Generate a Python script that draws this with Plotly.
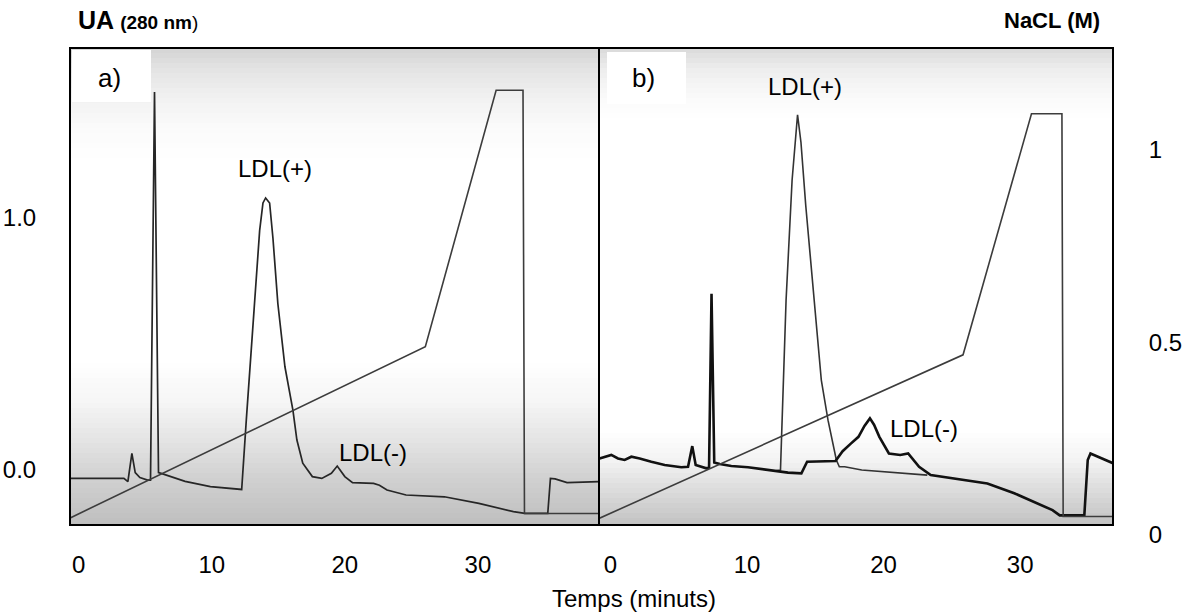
import plotly.graph_objects as go

W, H = 1192, 614

# ---------------- data ----------------
# panel a) : UV absorbance trace (280 nm)
TIME_A_UV = [-0.6, 3.4, 3.7, 4.0, 4.25, 4.6, 5.18, 5.4, 5.7, 6.0, 6.2, 8.0, 9.9, 12.25,
             12.6, 12.95, 13.24, 13.6, 13.85, 14.05, 14.35, 14.6, 14.97, 15.5, 16.1,
             16.4, 16.84, 17.56, 18.27, 18.99, 19.43, 20.0, 20.58, 22.16, 22.6, 23.17,
             24.6, 27.48, 30.07, 32.67, 33.53, 35.25, 35.45, 35.8, 36.7, 39.1]
UV_A = [-0.033, -0.033, -0.046, 0.066, -0.01, -0.03, -0.04, -0.04, 1.50, -0.01, -0.013,
        -0.045, -0.066, -0.077, 0.2, 0.45, 0.667, 0.95, 1.06, 1.08, 1.06, 0.92, 0.66,
        0.41, 0.238, 0.119, 0.027, -0.026, -0.033, -0.013, 0.016, -0.026, -0.05, -0.053,
        -0.06, -0.079, -0.099, -0.106, -0.132, -0.165, -0.172, -0.172, -0.033, -0.035,
        -0.05, -0.046]
# panel a) : NaCl gradient
TIME_A_NACL = [-0.6, 26.05, 31.37, 33.39, 33.5, 39.1]
NACL_A = [0.045, 0.489, 1.155, 1.155, 0.056, 0.056]

# panel b) : UV trace with LDL(-) peak (thick)
TIME_B_UV = [-0.8, 0.06, 0.55, 1.04, 1.53, 2.14, 2.99, 3.97, 5.19, 5.68, 5.99, 6.24, 7.02,
             7.22, 7.4, 7.6, 8.0, 8.85, 10.07, 11.3, 12.27, 13.0, 13.98, 14.4, 16.48,
             17.0, 17.6, 18.16, 18.6, 19.0, 19.3, 19.69, 20.39, 21.22, 21.8, 22.6, 23.45,
             26.8, 27.6, 29.57, 32.37, 32.9, 34.7, 34.95, 35.15, 35.7, 36.8]
UV_B = [0.046, 0.06, 0.046, 0.04, 0.053, 0.046, 0.033, 0.02, 0.011, 0.013, 0.095, 0.02,
        0.007, 0.01, 0.70, 0.03, 0.024, 0.016, 0.011, 0.003, -0.003, -0.01, -0.013, 0.033,
        0.036, 0.075, 0.105, 0.132, 0.175, 0.205, 0.18, 0.132, 0.066, 0.06, 0.066, 0.013,
        -0.02, -0.046, -0.053, -0.092, -0.159, -0.18, -0.18, 0.04, 0.066, 0.053, 0.027]
# panel b) : UV trace with LDL(+) peak (thin)
TIME_B_UV_PLUS = [12.1, 12.45, 12.86, 13.3, 13.7, 13.95, 14.3, 14.95, 15.44, 15.93, 16.3,
                  16.54, 16.76, 17.15, 18.4, 21.2, 23.2]
UV_B_PLUS = [-0.003, 0.0, 0.675, 1.15, 1.41, 1.3, 1.05, 0.667, 0.357, 0.198, 0.093, 0.04,
             0.013, 0.013, 0.0, -0.013, -0.02]
# panel b) : NaCl gradient
TIME_B_NACL = [-0.84, 25.82, 30.83, 33.06, 33.15, 36.8]
NACL_B = [0.043, 0.468, 1.094, 1.094, 0.048, 0.048]

X_TICKS = [0, 10, 20, 30]
X_TICK_TEXT = ["0", "10", "20", "30"]
UV_TICKS = [0.0, 1.0]
UV_TICK_TEXT = ["0.0", "1.0"]
NACL_TICKS = [0, 0.5, 1]
NACL_TICK_TEXT = ["0", "0.5", "1"]

# ---------------- helpers ----------------
FONT = "Liberation Sans, Arial, Helvetica, sans-serif"


def px(x):
    return x / W


def py(y):
    return 1 - y / H


BOX_L, BOX_M, BOX_R = 70, 599, 1113
BOX_T, BOX_B = 48, 525

fig = go.Figure()

# NaCl gradients
fig.add_trace(go.Scatter(x=TIME_A_NACL, y=NACL_A, xaxis="x", yaxis="y3", mode="lines",
                         line=dict(color="#3c3c3c", width=1.6), showlegend=False,
                         hoverinfo="skip"))
fig.add_trace(go.Scatter(x=TIME_B_NACL, y=NACL_B, xaxis="x2", yaxis="y3", mode="lines",
                         line=dict(color="#3c3c3c", width=1.6), showlegend=False,
                         hoverinfo="skip"))
# UV traces
fig.add_trace(go.Scatter(x=TIME_A_UV, y=UV_A, xaxis="x", yaxis="y", mode="lines",
                         line=dict(color="#262626", width=1.7), showlegend=False))
fig.add_trace(go.Scatter(x=TIME_B_UV_PLUS, y=UV_B_PLUS, xaxis="x2", yaxis="y", mode="lines",
                         line=dict(color="#333333", width=1.6), showlegend=False))
fig.add_trace(go.Scatter(x=TIME_B_UV, y=UV_B, xaxis="x2", yaxis="y", mode="lines",
                         line=dict(color="#111111", width=2.6), showlegend=False))

# ---------------- background shading (scanned look) ----------------
shapes = []


def grey_at(y, stops):
    for (y0, g0), (y1, g1) in zip(stops[:-1], stops[1:]):
        if y0 <= y <= y1:
            t = (y - y0) / (y1 - y0)
            return g0 + t * (g1 - g0)
    return stops[-1][1]


STOPS_A = [(48, 212), (70, 228), (100, 242), (130, 251), (160, 255), (360, 255),
           (400, 246), (440, 228), (480, 208), (525, 190)]
STOPS_B = [(48, 218), (70, 238), (100, 251), (120, 255), (430, 255), (460, 243),
           (490, 220), (525, 194)]
step = 5
for (x0, x1, stops) in [(BOX_L, BOX_M, STOPS_A), (BOX_M, BOX_R, STOPS_B)]:
    y = BOX_T
    while y < BOX_B:
        y2 = min(y + step, BOX_B)
        g = int(round(grey_at((y + y2) / 2, stops)))
        if g < 255:
            shapes.append(dict(type="rect", xref="paper", yref="paper", layer="below",
                               x0=px(x0), x1=px(x1), y0=py(y2), y1=py(y),
                               fillcolor=f"rgb({g},{g},{g})", line=dict(width=0)))
        y = y2

# white label boxes
shapes.append(dict(type="rect", xref="paper", yref="paper", layer="below",
                   x0=px(72), x1=px(151), y0=py(102), y1=py(50),
                   fillcolor="white", line=dict(width=0)))
shapes.append(dict(type="rect", xref="paper", yref="paper", layer="below",
                   x0=px(607), x1=px(686), y0=py(104), y1=py(52),
                   fillcolor="white", line=dict(width=0)))
# frames
for (x0, x1) in [(BOX_L, BOX_M), (BOX_M, BOX_R)]:
    shapes.append(dict(type="rect", xref="paper", yref="paper", layer="above",
                       x0=px(x0), x1=px(x1), y0=py(BOX_B), y1=py(BOX_T),
                       fillcolor="rgba(0,0,0,0)", line=dict(color="black", width=2)))

# ---------------- annotations ----------------
ann = []


def text(x, y, s, size=24, xanchor="center"):
    ann.append(dict(xref="paper", yref="paper", x=px(x), y=py(y), text=s,
                    showarrow=False, xanchor=xanchor, yanchor="middle",
                    font=dict(family=FONT, size=size, color="black")))


text(109, 78, "a)", size=26)
text(643, 78, "b)", size=26)
text(275, 168, "LDL(+)", size=24)
text(805, 86, "LDL(+)", size=24)
text(373, 452, "LDL(-)", size=24)
text(924, 428, "LDL(-)", size=24)
text(634, 598, "Temps (minuts)", size=24)
text(76, 20, "<b>UA <span style='font-size:19px'>(280 nm</span></b>"
             "<span style='font-size:19px'>)</span>", size=25, xanchor="left")
text(1102, 20, "<b>NaCL (M)</b>", size=22, xanchor="right")

tickfont = dict(family=FONT, size=24, color="black")
clear = "rgba(0,0,0,0)"

fig.update_layout(
    width=W, height=H,
    margin=dict(l=0, r=0, t=0, b=0),
    paper_bgcolor="white", plot_bgcolor=clear,
    showlegend=False,
    shapes=shapes, annotations=ann,
    xaxis=dict(domain=[px(BOX_L), px(BOX_M)], range=[-0.65, 39.1], anchor="y",
               tickvals=X_TICKS, ticktext=X_TICK_TEXT, ticks="outside", ticklen=18,
               tickcolor=clear, showgrid=False, zeroline=False, showline=False,
               tickfont=tickfont, automargin=False),
    xaxis2=dict(domain=[px(BOX_M), px(BOX_R)], range=[-0.84, 36.8], anchor="y",
                tickvals=X_TICKS, ticktext=X_TICK_TEXT, ticks="outside", ticklen=18,
                tickcolor=clear, showgrid=False, zeroline=False, showline=False,
                tickfont=tickfont, automargin=False),
    yaxis=dict(domain=[py(BOX_B), py(BOX_T)], range=[-0.218, 1.675], anchor="x",
               tickvals=UV_TICKS, ticktext=UV_TICK_TEXT, ticks="outside", ticklen=28,
               tickcolor=clear, showgrid=False, zeroline=False, showline=False,
               tickfont=tickfont, automargin=False),
    yaxis3=dict(domain=[py(550), py(BOX_T)], range=[(535 - 550) / 385, (535 - 48) / 385],
                anchor="x2", side="right", tickvals=NACL_TICKS, ticktext=NACL_TICK_TEXT,
                ticks="outside", ticklen=30, tickcolor=clear, showgrid=False,
                zeroline=False, showline=False, tickfont=tickfont, automargin=False),
)

fig.write_html("out.html")
